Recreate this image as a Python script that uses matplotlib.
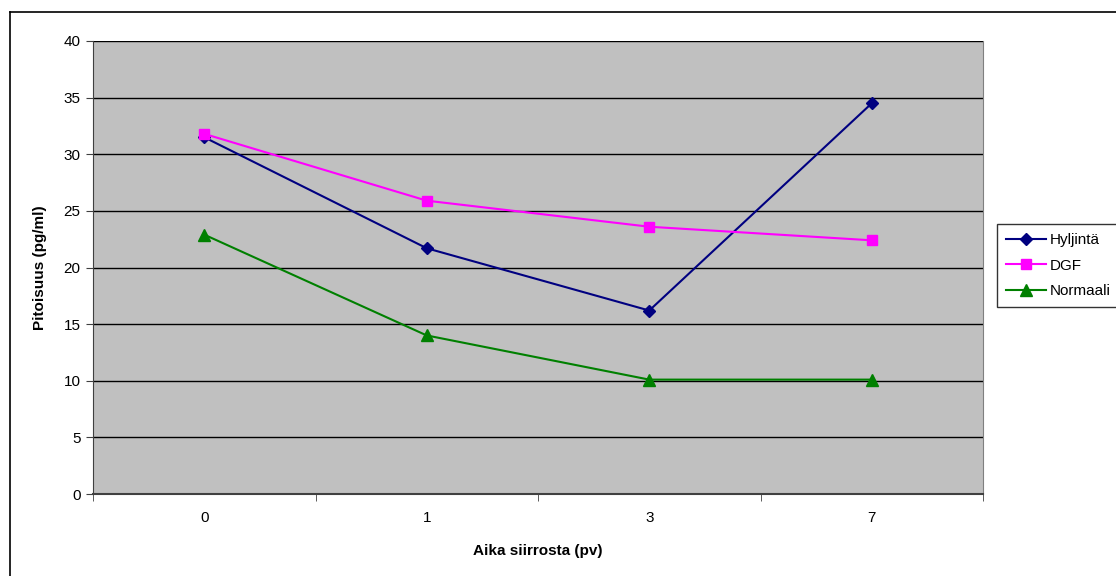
import numpy as np
import matplotlib.pyplot as plt
from matplotlib.lines import Line2D

plt.rcParams['font.family'] = ['Liberation Sans', 'DejaVu Sans']

days = ["0", "1", "3", "7"]
hyljinta = [31.5, 21.7, 16.2, 34.5]
dgf = [31.8, 25.9, 23.6, 22.4]
normaali = [22.9, 14.0, 10.1, 10.1]

x = np.arange(len(days))

fig = plt.figure(figsize=(11.16, 5.76), dpi=100)
ax = fig.add_axes([93/1116, 82/576, 890/1116, 453/576])
ax.set_facecolor("#C0C0C0")

ax.plot(x, hyljinta, color="#000080", marker="D", markersize=6.5, lw=1.5, label="Hyljintä")
ax.plot(x, dgf, color="#FF00FF", marker="s", markersize=7.5, lw=1.5, label="DGF")
ax.plot(x, normaali, color="#008000", marker="^", markersize=8, lw=1.5, label="Normaali")

ax.set_xlim(-0.5, 3.5)
ax.set_ylim(0, 40)
ax.set_yticks(np.arange(0, 41, 5))
ax.yaxis.grid(True, color="black", lw=1)
ax.set_axisbelow(True)

ax.set_xticks(x)
ax.set_xticklabels(days)
ax.set_xticks(np.arange(-0.5, 4, 1), minor=True)
ax.tick_params(axis="x", which="major", length=0, pad=12, labelsize=11)
ax.tick_params(axis="x", which="minor", length=5, color="#404040")
ax.tick_params(axis="y", length=5, color="#404040", labelsize=11, pad=4)

ax.spines["top"].set_visible(False)
ax.spines["right"].set_color("#808080")
ax.spines["left"].set_color("#404040")
ax.spines["bottom"].set_color("#404040")
ax.spines["bottom"].set_linewidth(1.5)

ax.set_xlabel("Aika siirrosta (pv)", fontsize=11, fontweight="bold", labelpad=14)
ax.set_ylabel("Pitoisuus (pg/ml)", fontsize=11, fontweight="bold", labelpad=12)

leg = ax.legend(loc="upper left", bbox_to_anchor=(997/1116, 1 - 224/576),
                bbox_transform=fig.transFigure, frameon=True, fancybox=False,
                edgecolor="black", fontsize=11, borderpad=0.6, handlelength=2.6,
                labelspacing=0.75, handletextpad=0.25, borderaxespad=0)
leg.get_frame().set_linewidth(1)

# outer chart border (left and top edges visible)
fig.add_artist(Line2D([10/1116, 10/1116], [0, 1 - 12/576], transform=fig.transFigure, color="black", lw=1.2))
fig.add_artist(Line2D([10/1116, 1], [1 - 12/576, 1 - 12/576], transform=fig.transFigure, color="black", lw=1.2))

fig.savefig("out.png", dpi=100)
